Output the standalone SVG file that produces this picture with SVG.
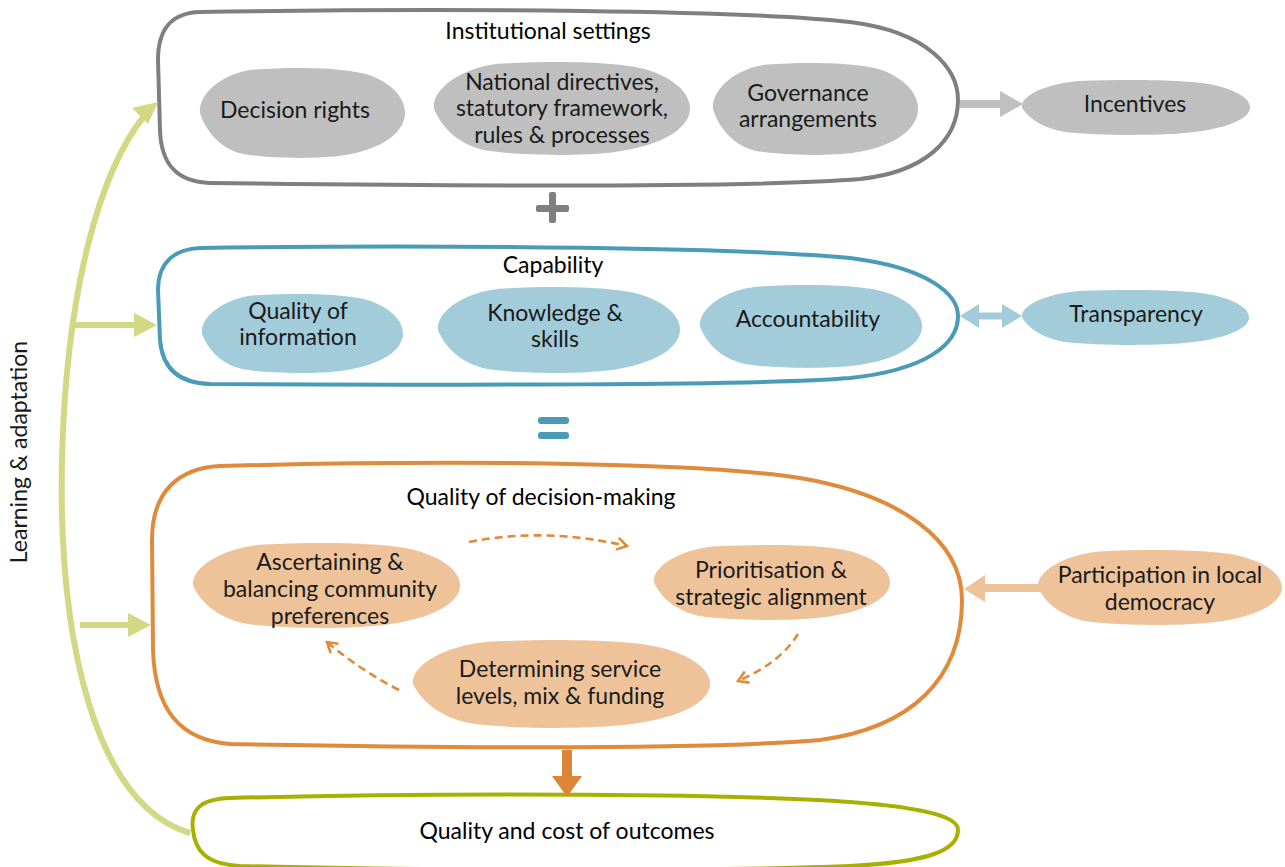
<svg xmlns="http://www.w3.org/2000/svg" width="1285" height="867" viewBox="0 0 1285 867">
<style>
text{font-family:Lato,"Noto Sans","Liberation Sans",sans-serif;font-size:23px;fill:#1a1a1a;text-anchor:middle}
.t{fill:#000}
.gb{fill:#bfbfc0}.bb{fill:#a3ccdb}.ob{fill:#eec39a}
.cont{fill:#fff;stroke-width:4;stroke-linejoin:round}
.dash{fill:none;stroke:#e08a3a;stroke-width:2.6;stroke-dasharray:8 5;marker-end:url(#chev)}
</style>
<defs>
<path id="blob" d="M0.25,0.02 C0.5,-0.02 0.75,0 0.85,0.1 C0.95,0.2 1,0.35 1,0.5 C1,0.7 0.9,0.9 0.7,0.97 C0.55,1.02 0.3,1 0.2,0.95 C0.08,0.88 0.02,0.65 0,0.5 C-0.01,0.3 0.1,0.07 0.25,0.02 Z"/>
<marker id="chev" viewBox="0 0 10 10" refX="8.6" refY="5" markerWidth="15" markerHeight="15" orient="auto" markerUnits="userSpaceOnUse"><path d="M2,1 L8.6,5 L2,9" fill="none" stroke="#e08a3a" stroke-width="1.7" stroke-linejoin="miter"/></marker>
</defs>
<rect width="1285" height="867" fill="#fff"/>

<g id="institutional">
<path class="cont" stroke="#7f7f80" d="M200,12 C450,8 750,10 850,22 C930,32 958,70 958,100 C958,140 925,172 860,179 C750,188 450,186 210,183 C175,182 161,162 160,130 L158,60 C158,30 170,13 200,12 Z"/>
<text class="t" x="548" y="39">Institutional settings</text>
</g>
<g id="decision-rights"><use href="#blob" class="gb" transform="translate(200,68) scale(205,90)"/><text x="295" y="118">Decision rights</text></g>
<g id="national"><use href="#blob" class="gb" transform="translate(434,62) scale(256,93)"/><text x="562" y="90">National directives,</text><text x="562" y="116">statutory framework,</text><text x="562" y="143">rules &amp; processes</text></g>
<g id="governance"><use href="#blob" class="gb" transform="translate(713,63) scale(205,92)"/><text x="808" y="101">Governance</text><text x="808" y="127">arrangements</text></g>
<g id="incentives"><use href="#blob" class="gb" transform="translate(1022,80) scale(228,55)"/><text x="1135" y="112">Incentives</text></g>

<g id="plus"><rect x="536" y="205" width="33" height="7" rx="2" fill="#7f7f80"/><rect x="549" y="192" width="7" height="31" rx="2" fill="#7f7f80"/></g>

<g id="capability">
<path class="cont" stroke="#4a9bb8" d="M200,248 C450,244 750,248 850,258 C930,268 958,295 958,316 C958,345 925,370 850,378 C750,386 450,385 210,384 C175,383 162,365 160,340 L158,290 C158,262 175,249 200,248 Z"/>
<text class="t" x="553" y="273">Capability</text>
</g>
<g id="quality-info"><use href="#blob" class="bb" transform="translate(202,294) scale(201,79)"/><text x="298" y="319">Quality of</text><text x="298" y="345">information</text></g>
<g id="knowledge"><use href="#blob" class="bb" transform="translate(438,287) scale(242,86)"/><text x="555" y="321">Knowledge &amp;</text><text x="555" y="347">skills</text></g>
<g id="accountability"><use href="#blob" class="bb" transform="translate(700,285) scale(222,83)"/><text x="808" y="327">Accountability</text></g>
<g id="transparency"><use href="#blob" class="bb" transform="translate(1022,290) scale(227,55)"/><text x="1136" y="322">Transparency</text></g>

<g id="equals"><rect x="538" y="417" width="31" height="7" rx="3" fill="#4a9bb8"/><rect x="538" y="432" width="31" height="7" rx="3" fill="#4a9bb8"/></g>

<g id="decision-making">
<path class="cont" stroke="#e08a3a" d="M220,466 C450,460 700,462 800,478 C900,495 962,540 962,600 C962,680 910,728 820,740 C700,750 450,748 230,744 C180,740 155,710 153,650 L152,540 C152,490 180,468 220,466 Z"/>
<text class="t" x="541" y="505">Quality of decision-making</text>
</g>
<g id="ascertaining"><use href="#blob" class="ob" transform="translate(193,543) scale(267,85)"/><text x="330" y="570">Ascertaining &amp;</text><text x="330" y="597">balancing community</text><text x="330" y="624">preferences</text></g>
<g id="prioritisation"><use href="#blob" class="ob" transform="translate(654,545) scale(236,75)"/><text x="771" y="578">Prioritisation &amp;</text><text x="771" y="605">strategic alignment</text></g>
<g id="determining"><use href="#blob" class="ob" transform="translate(413,640) scale(297,88)"/><text x="560" y="677">Determining service</text><text x="560" y="704">levels, mix &amp; funding</text></g>
<g id="participation"><use href="#blob" class="ob" transform="translate(1038,550) scale(244,75)"/><text x="1160" y="583">Participation in local</text><text x="1160" y="610">democracy</text></g>

<g id="outcomes">
<path class="cont" stroke="#a8b000" d="M230,798 C450,792 750,794 850,802 C930,808 958,818 958,830 C958,850 930,862 850,866 C700,872 400,870 240,866 C205,864 195,850 193,830 C190,810 200,799 230,798 Z"/>
<text class="t" x="567" y="839">Quality and cost of outcomes</text>
</g>

<g id="learning"><text x="0" y="0" transform="translate(27,452) rotate(-90)">Learning &amp; adaptation</text></g>

<g id="connectors">
<path d="M190,833 C95,805 58,640 62,460 C66,290 100,170 145,115" fill="none" stroke="#d3d884" stroke-width="6"/>
<polygon points="158,102 132,108 148,124" fill="#d3d884"/>
<line x1="75" y1="325" x2="136" y2="325" stroke="#d3d884" stroke-width="6"/>
<polygon points="134,313 157,325 134,337" fill="#d3d884"/>
<line x1="80" y1="625" x2="130" y2="625" stroke="#d3d884" stroke-width="6"/>
<polygon points="128,613 151,625 128,637" fill="#d3d884"/>
<line x1="960" y1="104" x2="1002" y2="104" stroke="#c0c0c0" stroke-width="8"/>
<polygon points="1000,91 1023,104 1000,117" fill="#c0c0c0"/>
<line x1="975" y1="316" x2="1005" y2="316" stroke="#a3ccdb" stroke-width="7"/>
<polygon points="979,304 960,316 979,328" fill="#a3ccdb"/>
<polygon points="1002,304 1022,316 1002,328" fill="#a3ccdb"/>
<line x1="1043" y1="588" x2="983" y2="588" stroke="#eec39a" stroke-width="8"/>
<polygon points="985,575 964,589 985,602" fill="#eec39a"/>
<line x1="567" y1="750" x2="567" y2="778" stroke="#dc8535" stroke-width="10"/>
<polygon points="552,776 582,776 567,797" fill="#dc8535"/>
<path class="dash" d="M469,542 Q545,527 627,546"/>
<path class="dash" d="M798,634 Q780,663 738,681"/>
<path class="dash" d="M399,690 Q360,670 327,642"/>
</g>
</svg>
